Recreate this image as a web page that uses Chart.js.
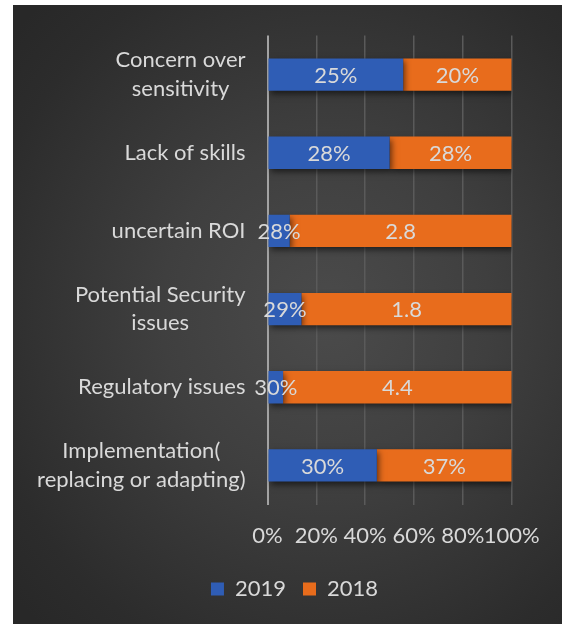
<!DOCTYPE html>
<html>
<head>
<meta charset="utf-8">
<script src="https://cdn.jsdelivr.net/npm/chart.js@4.4.1/dist/chart.umd.min.js"></script>
<style>
  html, body { margin: 0; padding: 0; background: #fff; }
  #panel {
    position: absolute; left: 13px; top: 5px; width: 549px; height: 619px;
    background: radial-gradient(ellipse 75% 70% at 57% 50%, #4b4b4b 0%, #3f3f3f 40%, #2c2c2c 85%, #282828 100%);
  }
</style>
</head>
<body>
<div id="panel"><canvas id="myChart" width="549" height="619"></canvas></div>
<script>
const categories = [
  ['Concern over', 'sensitivity'],
  'Lack of skills',
  'uncertain ROI',
  ['Potential Security', 'issues'],
  'Regulatory issues',
  ['Implementation(', 'replacing or adapting)']
];
const values2019 = [0.25, 0.28, 0.28, 0.29, 0.30, 0.30];
const values2018 = [0.20, 0.28, 2.8, 1.8, 4.4, 0.37];
const xTicks = [0, 20, 40, 60, 80, 100];

const textColor = '#d9d9d9';
const fontFamily = 'Lato, "Open Sans", sans-serif';

// 100% stacked: share of each row
const share = (a, b) => a.map((v, i) => v / (v + b[i]) * 100);
const fmt = v => v < 1 ? Math.round(v * 100) + '%' : String(v);

const rawValues = [values2019, values2018];

const barLabels = {
  id: 'barLabels',
  afterDatasetsDraw(chart) {
    const c = chart.ctx;
    c.save();
    c.font = '22px ' + fontFamily;
    c.fillStyle = textColor;
    c.textAlign = 'center';
    c.textBaseline = 'middle';
    chart.data.datasets.forEach((ds, di) => {
      chart.getDatasetMeta(di).data.forEach((bar, i) => {
        const cx = (bar.x + bar.base) / 2;
        c.fillText(fmt(rawValues[di][i]), cx, bar.y + 1);
      });
    });
    c.restore();
  }
};

// category labels: block right aligned, lines centred inside the block (like Excel)
const categoryLabels = {
  id: 'categoryLabels',
  afterDraw(chart) {
    const c = chart.ctx;
    const y = chart.scales.y;
    const right = chart.chartArea.left - 22;
    const lh = 28.6;
    c.save();
    c.font = '22px ' + fontFamily;
    c.fillStyle = textColor;
    c.textAlign = 'center';
    c.textBaseline = 'middle';
    categories.forEach((cat, i) => {
      const lines = Array.isArray(cat) ? cat : [cat];
      const w = Math.max(...lines.map(l => c.measureText(l).width));
      const cx = right - w / 2;
      const cy = y.getPixelForValue(i);
      lines.forEach((l, k) => {
        c.fillText(l, cx, cy + (k - (lines.length - 1) / 2) * lh);
      });
    });
    c.restore();
  }
};

// legend is centred under the whole panel, not only under the plot
const legendShift = {
  id: 'legendShift',
  afterLayout(chart) {
    chart.legend.left = 68;
    chart.legend.right = 495;
  }
};

const barShadow = {
  id: 'barShadow',
  beforeDatasetsDraw(chart) {
    const c = chart.ctx;
    c.save();
    c.shadowColor = 'rgba(0,0,0,0.55)';
    c.shadowBlur = 6;
    c.shadowOffsetX = 2;
    c.shadowOffsetY = 3;
  },
  afterDatasetsDraw(chart) {
    chart.ctx.restore();
  }
};

function barGradient(top, bottom) {
  return (context) => {
    const el = context.element;
    const chart = context.chart;
    if (!el || el.height == null || !chart.chartArea) return bottom;
    const g = chart.ctx.createLinearGradient(0, el.y - el.height / 2, 0, el.y + el.height / 2);
    g.addColorStop(0, top);
    g.addColorStop(1, bottom);
    return g;
  };
}

const ctx = document.getElementById('myChart');
new Chart(ctx, {
  type: 'bar',
  data: {
    labels: categories,
    datasets: [{
      label: '2019',
      data: share(values2019, values2018),
      backgroundColor: barGradient('#5b87d4', '#2f5db5'),
      borderWidth: 0,
      barPercentage: 0.414,
      categoryPercentage: 1
    }, {
      label: '2018',
      data: share(values2018, values2019),
      backgroundColor: barGradient('#f38c52', '#e86c1c'),
      borderWidth: 0,
      barPercentage: 0.414,
      categoryPercentage: 1
    }]
  },
  plugins: [barShadow, barLabels, categoryLabels, legendShift],
  options: {
    indexAxis: 'y',
    responsive: false,
    animation: false,
    layout: { padding: { top: 30.5, right: 50.3, bottom: 14, left: 0 } },
    scales: {
      x: {
        stacked: true,
        min: 0,
        max: 100,
        afterFit: s => { s.height = 56.5; },
        afterBuildTicks: s => { s.ticks = xTicks.map(v => ({ value: v })); },
        border: { display: false },
        grid: {
          drawTicks: false,
          color: c => c.index === 0 ? '#a3a3a3' : '#5a5a5a',
          lineWidth: c => c.index === 0 ? 2 : 1.5
        },
        ticks: {
          padding: 18,
          maxRotation: 0,
          minRotation: 0,
          autoSkip: false,
          color: textColor,
          font: { family: fontFamily, size: 22 },
          callback: v => v + '%'
        }
      },
      y: {
        stacked: true,
        afterFit: s => { s.width = 254.5; },
        border: { display: false },
        grid: { display: false },
        ticks: { display: false }
      }
    },
    plugins: {
      tooltip: { enabled: false },
      legend: {
        position: 'bottom',
        labels: {
          color: textColor,
          font: { family: fontFamily, size: 22 },
          boxWidth: 13,
          boxHeight: 13,
          padding: 17
        }
      }
    }
  }
});
</script>
</body>
</html>
